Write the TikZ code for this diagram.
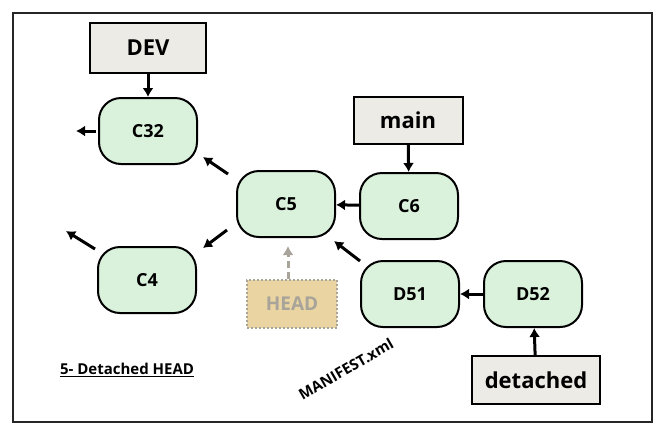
\documentclass[tikz,border=0pt]{standalone}
\usepackage{fontspec}
\setmainfont{Open Sans}
\usetikzlibrary{arrows.meta}
\definecolor{commitgreen}{HTML}{DAF2DC}
\definecolor{labelgray}{HTML}{ECEBE5}
\definecolor{headtan}{HTML}{E9D4A2}
\definecolor{headtext}{HTML}{A8A49A}
\tikzset{
  commit/.style={draw=black, line width=2pt, fill=commitgreen, rounded corners=22pt,
    minimum width=98pt, minimum height=66pt, font=\bfseries\fontsize{18}{21}\selectfont},
  refbox/.style={draw=black, line width=2pt, fill=labelgray, inner sep=0pt,
    font=\bfseries\fontsize{22}{26}\selectfont},
  link/.style={line width=3pt, -{Latex[length=9pt,width=11pt]}},
}
\begin{document}
\begin{tikzpicture}[x=1pt, y=-1pt]
                \useasboundingbox (0,0) rectangle (660,432);
                \draw[line width=2pt, black!85] (13,13) rectangle (652,422);
                \node[commit] (c32) at (148,131) {C32};
                \node[commit] (c5) at (286,204) {C5};
                \node[commit] (c6) at (409,206) {C6};
                \node[commit] (c4) at (147,280) {C4};
                \node[commit] (d51) at (410,294) {D51};
                \node[commit] (d52) at (533,294) {D52};
                \node[refbox, minimum width=116pt, minimum height=50pt] (dev) at (148,48) {DEV};
                \node[refbox, minimum width=109pt, minimum height=47pt] (main) at (408,120) {main};
                \node[refbox, minimum width=128pt, minimum height=48pt] (detached) at (536,380) {detached};
                \node[draw=headtext, line width=2pt, dotted, fill=headtan, text=headtext, inner sep=0pt,
                  minimum width=90pt, minimum height=48pt, font=\bfseries\fontsize{19}{22}\selectfont]
                  (head) at (292,304) {HEAD};
                \node[font=\bfseries\fontsize{15}{18}\selectfont] (title) at (127,370) {\underline{5- Detached HEAD}};
                \node[font=\bfseries\fontsize{15}{18}\selectfont, rotate=30] (manifest) at (346,369) {MANIFEST.xml};
                % free ends of the two old-history arrows
                \coordinate (c32end) at (76,131);
                \coordinate (c4end) at (66,231);
                \draw[link] (dev) -- (c32);
                \draw[link] (main) -- (c6);
                \draw[link] (detached) -- (d52);
                \draw[link] ([xshift=-2pt]c32.west) -- (c32end);
                \draw[link] ([shift={(-2,3)}]c4.north west) -- (c4end);
                \draw[link] (c6) -- (c5);
                \draw[link] (d52) -- (d51);
                \draw[link] ([shift={(-8,4)}]c5.north west) -- ([shift={(5,-8)}]c32.south east);
                \draw[link] ([shift={(-9,-8)}]c5.south west) -- ([shift={(6,2)}]c4.north east);
                \draw[link] ([shift={(0,1)}]d51.north west) -- ([shift={(-2,3)}]c5.south east);
                \draw[line width=3pt, headtext, dash pattern=on 7pt off 4pt, -{Latex[length=9pt,width=11pt]}] ([xshift=-4pt]head.north) -- ([shift={(-4,8)}]c5.south -| head);
\end{tikzpicture}
\end{document}
